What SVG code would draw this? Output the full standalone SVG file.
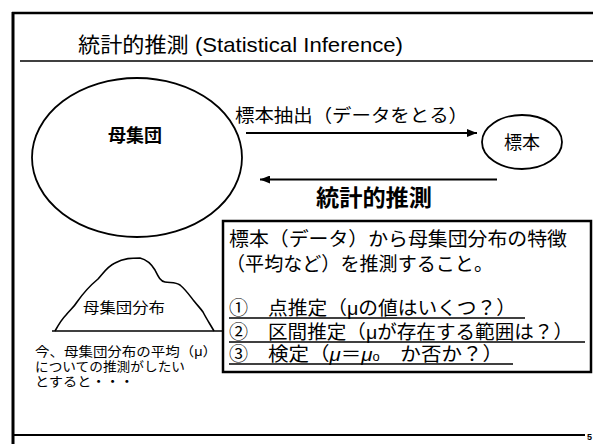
<svg xmlns="http://www.w3.org/2000/svg" width="593" height="444" viewBox="0 0 593 444">
<defs>
<style>
.t{font-family:"Liberation Sans","Noto Sans CJK JP",sans-serif;fill:#000}
.ln{stroke:#000;fill:none}
</style>
<marker id="ah" viewBox="0 0 10 8" refX="10" refY="4" markerWidth="10" markerHeight="8" markerUnits="userSpaceOnUse" orient="auto">
<path d="M0,0 L10,4 L0,8 Z" fill="#000"/>
</marker>
</defs>
<rect width="593" height="444" fill="#fff"/>
<g id="frame">
<line class="ln" x1="13" y1="12" x2="13" y2="444" stroke-width="3"/>
<line class="ln" x1="12" y1="13" x2="593" y2="13" stroke-width="2.5"/>
<line class="ln" x1="20" y1="61" x2="593" y2="61" stroke-width="1.5"/>
<line class="ln" x1="12" y1="435" x2="585" y2="435" stroke-width="2"/>
<text class="t" x="587" y="440" font-size="9" font-weight="bold">5</text>
</g>
<g id="title">
<text class="t" x="78" y="52" font-size="21" textLength="325" lengthAdjust="spacingAndGlyphs">統計的推測 (Statistical Inference)</text>
</g>
<g id="population">
<ellipse class="ln" cx="137" cy="157.5" rx="105" ry="79.5" stroke-width="1.8"/>
<text class="t" x="135" y="142" font-size="18" text-anchor="middle" font-weight="bold">母集団</text>
</g>
<g id="sample">
<ellipse class="ln" cx="522" cy="142" rx="40" ry="27" stroke-width="1.8"/>
<text class="t" x="522" y="149" font-size="18" text-anchor="middle">標本</text>
</g>
<g id="connectors">
<line class="ln" x1="246" y1="133" x2="477" y2="133" stroke-width="1.8" marker-end="url(#ah)"/>
<line class="ln" x1="497" y1="179.5" x2="260" y2="179.5" stroke-width="1.8" marker-end="url(#ah)"/>
<text class="t" x="235" y="122" font-size="18" textLength="233" lengthAdjust="spacingAndGlyphs">標本抽出（データをとる）</text>
<text class="t" x="316" y="206" font-size="23" font-weight="bold" textLength="116" lengthAdjust="spacingAndGlyphs">統計的推測</text>
</g>
<g id="distribution">
<path class="ln" stroke-width="1.6" d="M55,331 C60,322 63,318 66,315 C70,310 74,307 77,302 C84,292 92,284 98,279 C104,272 108,266 115,263 C124,258 132,258 140,258 C148,260 152,265 155,270 C158,276 160,281 165,282 C170,283 176,282 180,285 C186,290 190,296 194,301 C198,306 201,309 203,312 C206,318 210,324 214,331"/>
<line class="ln" x1="52" y1="331" x2="222" y2="331" stroke-width="1.5"/>
<text class="t" x="124" y="313" font-size="14.5" text-anchor="middle" textLength="82" lengthAdjust="spacingAndGlyphs">母集団分布</text>
</g>
<g id="note">
<text class="t" x="35" y="356" font-size="13" textLength="182" lengthAdjust="spacingAndGlyphs">今、母集団分布の平均（μ）</text>
<text class="t" x="35" y="371" font-size="13" textLength="150" lengthAdjust="spacingAndGlyphs">についての推測がしたい</text>
<text class="t" x="35" y="385.5" font-size="13" textLength="99" lengthAdjust="spacingAndGlyphs">とすると・・・</text>
</g>
<g id="infobox">
<rect class="ln" x="223" y="221" width="368" height="151" stroke-width="2.5"/>
<text class="t" x="229" y="246" font-size="19.5" textLength="338" lengthAdjust="spacingAndGlyphs">標本（データ）から母集団分布の特徴</text>
<text class="t" x="226" y="271" font-size="19.5" textLength="267" lengthAdjust="spacingAndGlyphs">（平均など）を推測すること。</text>
<text class="t" x="229" y="315" font-size="19">①</text>
<text class="t" x="268" y="315" font-size="19" textLength="248" lengthAdjust="spacingAndGlyphs">点推定（μの値はいくつ？）</text>
<line class="ln" x1="229" y1="318" x2="525" y2="318" stroke-width="1.5"/>
<text class="t" x="229" y="339" font-size="19">②</text>
<text class="t" x="268" y="339" font-size="19" textLength="305" lengthAdjust="spacingAndGlyphs">区間推定（μが存在する範囲は？）</text>
<line class="ln" x1="229" y1="342" x2="585" y2="342" stroke-width="1.5"/>
<text class="t" x="229" y="361" font-size="19">③</text>
<text class="t" x="268" y="361" font-size="19" textLength="235" lengthAdjust="spacingAndGlyphs">検定（<tspan font-style="italic">μ</tspan>＝<tspan font-style="italic">μ</tspan><tspan font-size="12">o</tspan>　か否か？）</text>
<line class="ln" x1="229" y1="364" x2="513" y2="364" stroke-width="1.5"/>
</g>
</svg>
